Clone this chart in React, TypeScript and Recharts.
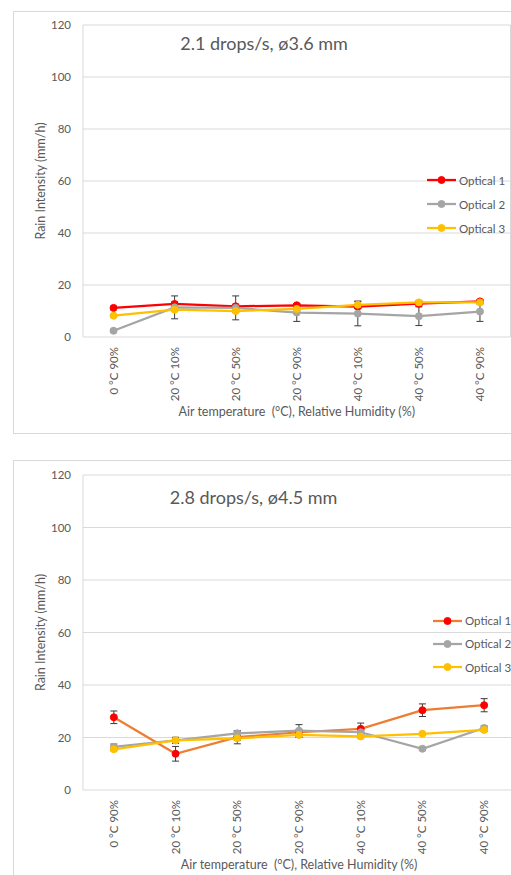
import React from 'react';
import { LineChart, Line, XAxis, YAxis, CartesianGrid, ErrorBar, Legend } from 'recharts';

const categories = ['0 °C 90%', '20 °C 10%', '20 °C 50%', '20 °C 90%', '40 °C 10%', '40 °C 50%', '40 °C 90%'];
const yTicks = [0, 20, 40, 60, 80, 100, 120];
const gridTicks = [0, 1, 2, 3, 4, 5, 6, 7];
const seriesNames = ['Optical 1', 'Optical 2', 'Optical 3'];

// Chart 1: 2.1 drops/s, ø3.6 mm
const c1Optical1 = [11.2, 12.7, 11.8, 12.2, 11.7, 12.8, 13.7];
const c1Optical1Err = [0.6, 0.8, 0.8, 0.6, 0.8, 0.8, 0.6];
const c1Optical2 = [2.4, 11.4, 11.2, 9.4, 9.0, 8.0, 9.8];
const c1Optical2Err = [0.5, 4.4, 4.6, 3.4, 4.7, 3.6, 3.8];
const c1Optical3 = [8.2, 10.5, 10.0, 10.8, 12.4, 13.3, 13.3];
const c1Optical3Err = [0.4, 0.6, 0.6, 0.6, 1.4, 0.6, 0.6];

// Chart 2: 2.8 drops/s, ø4.5 mm
const c2Optical1 = [27.7, 13.8, 20.1, 22.0, 23.3, 30.4, 32.3];
const c2Optical1Err = [2.4, 2.8, 2.5, 1.0, 2.2, 2.4, 2.5];
const c2Optical2 = [16.4, 18.9, 21.6, 22.6, 22.0, 15.7, 23.6];
const c2Optical2Err = [1.1, 0.8, 0.8, 2.3, 0.6, 0.6, 0.8];
const c2Optical3 = [15.5, 18.9, 19.7, 21.0, 20.4, 21.4, 22.9];
const c2Optical3Err = [0.5, 1.2, 0.8, 1.0, 0.6, 0.5, 0.6];

const buildRows = (a: number[], ae: number[], b: number[], be: number[], c: number[], ce: number[]) =>
  categories.map((cat, i) => ({ cat, o1: a[i], o1e: ae[i], o2: b[i], o2e: be[i], o3: c[i], o3e: ce[i] }));

const data1 = buildRows(c1Optical1, c1Optical1Err, c1Optical2, c1Optical2Err, c1Optical3, c1Optical3Err);
const data2 = buildRows(c2Optical1, c2Optical1Err, c2Optical2, c2Optical2Err, c2Optical3, c2Optical3Err);

const FONT = "Lato, 'Open Sans', 'Noto Sans', sans-serif";
const TEXT = '#595959';
const GRID = '#d9d9d9';

type Series = { key: string; errKey: string; name: string; line: string; dot: string };

const series1: Series[] = [
  { key: 'o1', errKey: 'o1e', name: seriesNames[0], line: '#ff0000', dot: '#ff0000' },
  { key: 'o2', errKey: 'o2e', name: seriesNames[1], line: '#a5a5a5', dot: '#a5a5a5' },
  { key: 'o3', errKey: 'o3e', name: seriesNames[2], line: '#ffc000', dot: '#ffc000' },
];
const series2: Series[] = [
  { key: 'o1', errKey: 'o1e', name: seriesNames[0], line: '#ed7d31', dot: '#ff0000' },
  { key: 'o2', errKey: 'o2e', name: seriesNames[1], line: '#a5a5a5', dot: '#a5a5a5' },
  { key: 'o3', errKey: 'o3e', name: seriesNames[2], line: '#ffc000', dot: '#ffc000' },
];

const XTick = (props: any) => {
  const { x, y, payload } = props;
  return (
    <text x={x} y={y} transform={`rotate(-90 ${x} ${y})`} textAnchor="end" dy="0.35em" fill={TEXT} fontSize={11.5} fontFamily={FONT}>
      {payload.value}
    </text>
  );
};

const LegendBox = ({ series, rowH }: { series: Series[]; rowH: number }) => (
  <div style={{ fontFamily: FONT, fontSize: 11.5, color: TEXT }}>
    {series.map((s) => (
      <div key={s.key} style={{ display: 'flex', alignItems: 'center', height: rowH }}>
        <svg width={30} height={10} style={{ display: 'block' }}>
          <line x1={0} y1={5} x2={29} y2={5} stroke={s.line} strokeWidth={2.25} />
          <circle cx={14.5} cy={5} r={3.5} fill={s.dot} stroke={s.dot} />
        </svg>
        <span style={{ marginLeft: 2 }}>{s.name}</span>
      </div>
    ))}
  </div>
);

type ChartProps = {
  data: any[];
  series: Series[];
  title: string;
  left: number;
  top: number;
  width: number;
  height: number;
  plotTop: number;
  plotHeight: number;
  plotWidth: number;
  titleX: number;
  titleY: number;
  legendX: number;
  legendY: number;
  legendRowH: number;
};

const PLOT_LEFT = 70;
const XAXIS_H = 97;

const RainChart = (p: ChartProps) => {
  const margin = {
    top: p.plotTop,
    left: 0,
    right: p.width - PLOT_LEFT - p.plotWidth,
    bottom: p.height - p.plotTop - p.plotHeight - XAXIS_H,
  };
  const pad = p.plotWidth / 14;
  return (
    <div style={{ position: 'absolute', left: p.left, top: p.top, width: p.width, height: p.height }}>
      <div style={{ position: 'absolute', left: 0, top: 0, width: p.width, height: p.height, boxSizing: 'border-box', border: `1px solid ${GRID}` }} />
      <div style={{ position: 'absolute', left: 0, top: 0 }}>
        <LineChart width={p.width} height={p.height} data={p.data} margin={margin} style={{ fontFamily: FONT }}>
          <CartesianGrid xAxisId="grid" stroke={GRID} strokeWidth={1} />
          <XAxis
            xAxisId="grid"
            type="number"
            domain={[0, 7]}
            ticks={gridTicks}
            height={0}
            tick={false}
            tickSize={5}
            axisLine={{ stroke: GRID }}
            tickLine={{ stroke: GRID }}
            allowDataOverflow
          />
          <XAxis
            xAxisId="cat"
            dataKey="cat"
            height={XAXIS_H}
            interval={0}
            padding={{ left: pad, right: pad }}
            axisLine={false}
            tickLine={false}
            tickMargin={4}
            tick={<XTick />}
            label={(lp: any) => {
              const vb = lp.viewBox;
              return (
                <text x={vb.x + vb.width / 2} y={vb.y + 74.5} textAnchor="middle" dy="0.35em" fill={TEXT} fontSize={12.5} fontFamily={FONT} style={{ whiteSpace: 'pre' }}>
                  {'Air temperature  (°C), Relative Humidity (%)'}
                </text>
              );
            }}
          />
          <YAxis
            domain={[0, 120]}
            ticks={yTicks}
            width={PLOT_LEFT}
            axisLine={false}
            tickLine={false}
            tickMargin={6}
            tick={{ fill: TEXT, fontSize: 11.5, fontFamily: FONT }}
            label={(lp: any) => {
              const vb = lp.viewBox;
              const cx = 28;
              const cy = vb.y + vb.height / 2;
              return (
                <text x={cx} y={cy} transform={`rotate(-90 ${cx} ${cy})`} textAnchor="middle" dy="0.35em" fill={TEXT} fontSize={12.5} fontFamily={FONT}>
                  Rain Intensity (mm/h)
                </text>
              );
            }}
          />
          <Legend
            layout="vertical"
            align="center"
            verticalAlign="middle"
            wrapperStyle={{ position: 'absolute', left: p.legendX, top: p.legendY, width: 100, height: 72 }}
            content={() => <LegendBox series={p.series} rowH={p.legendRowH} />}
          />
          {p.series.map((s) => (
            <Line
              key={s.key}
              xAxisId="cat"
              dataKey={s.key}
              name={s.name}
              stroke={s.line}
              strokeWidth={2.25}
              dot={{ r: 3.5, fill: s.dot, stroke: s.dot, strokeWidth: 1 }}
              activeDot={false}
              isAnimationActive={false}
            >
              <ErrorBar dataKey={s.errKey} width={3.5} stroke="#3a3a3a" strokeWidth={1} direction="y" />
            </Line>
          ))}
        </LineChart>
      </div>
      <div
        style={{
          position: 'absolute',
          left: p.titleX,
          top: p.titleY,
          transform: 'translate(-50%, -50%)',
          whiteSpace: 'nowrap',
          fontFamily: FONT,
          fontSize: 18,
          color: TEXT,
        }}
      >
        {p.title}
      </div>
    </div>
  );
};

export default function App() {
  return (
    <div style={{ position: 'fixed', left: 0, top: 0, width: 511, height: 875, overflow: 'hidden', background: '#fff' }}>
      <RainChart
        data={data1}
        series={series1}
        title="2.1 drops/s, ø3.6 mm"
        left={13}
        top={11}
        width={520}
        height={423}
        plotTop={14}
        plotHeight={312}
        plotWidth={427.5}
        titleX={251}
        titleY={32}
        legendX={414}
        legendY={157}
        legendRowH={24}
      />
      <RainChart
        data={data2}
        series={series2}
        title="2.8 drops/s, ø4.5 mm"
        left={13}
        top={460}
        width={520}
        height={427}
        plotTop={15}
        plotHeight={315}
        plotWidth={432}
        titleX={240.5}
        titleY={37}
        legendX={420}
        legendY={149}
        legendRowH={23.3}
      />
    </div>
  );
}
